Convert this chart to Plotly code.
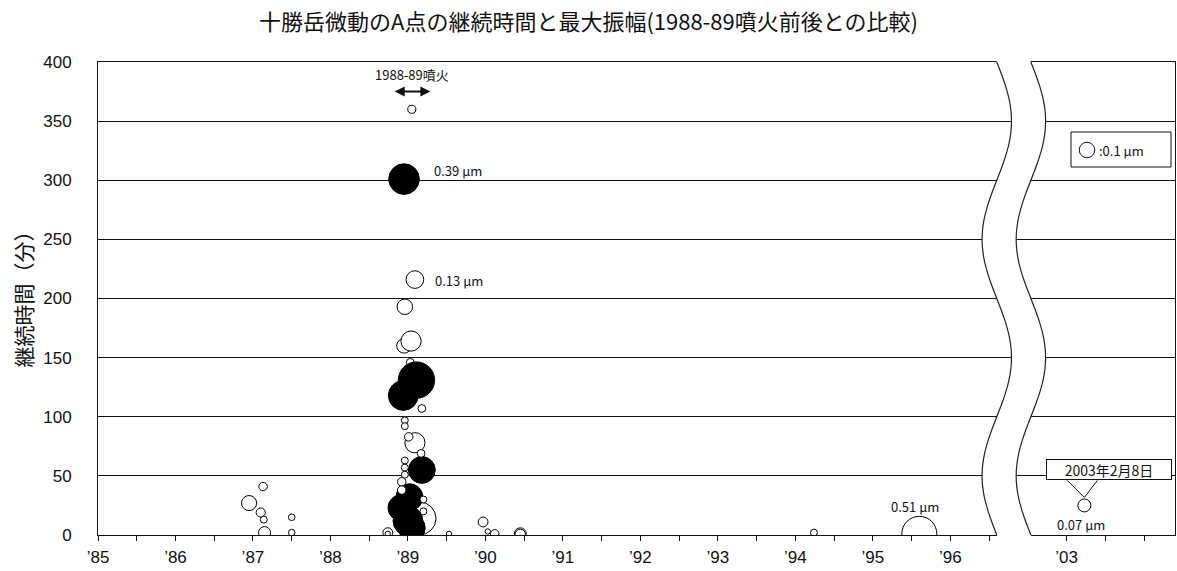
import math
import plotly.graph_objects as go

TITLE = "十勝岳微動のA点の継続時間と最大振幅(1988-89噴火前後との比較)"
Y_TITLE = "継続時間（分）"

# events in drawing order (earlier ones lie underneath)
event_year = [
    1986.95, 1987.13, 1987.10, 1987.14, 1987.15, 1987.50, 1987.50, 1988.74, 1988.74,
    1989.05, 1989.09, 1988.96, 1988.95, 1989.04, 1989.03, 1989.09, 1989.15,
    1988.95, 1989.11, 1988.94, 1989.18, 1989.02, 1988.91, 1989.00, 1989.05,
    1989.18, 1988.96, 1988.96, 1989.01, 1989.17, 1988.96, 1988.96, 1988.96,
    1988.92, 1988.92, 1989.20, 1989.20, 1989.53, 1989.97, 1990.03, 1990.12,
    1990.45, 1990.45, 1994.24, 1995.60, 2003.23,
]
event_duration = [
    27, 41, 19, 13, 2, 15, 2, 2, 1,
    360, 216, 193, 160, 164, 146, 78, 14,
    301, 131, 118, 55, 32, 23, 12, 6,
    107, 97, 92, 83, 69, 63, 57, 51,
    45, 38, 30, 20, 1, 11, 3, 1,
    1, 0.5, 2, 1, 25,
]
event_amplitude = [
    0.095, 0.03, 0.035, 0.02, 0.06, 0.018, 0.018, 0.04, 0.012,
    0.027, 0.13, 0.10, 0.09, 0.17, 0.025, 0.17, 0.45,
    0.39, 0.55, 0.37, 0.30, 0.30, 0.28, 0.37, 0.30,
    0.025, 0.02, 0.02, 0.03, 0.025, 0.02, 0.02, 0.02,
    0.03, 0.03, 0.02, 0.02, 0.012, 0.04, 0.012, 0.03,
    0.06, 0.045, 0.02, 0.51, 0.07,
]
event_filled = [
    0, 0, 0, 0, 0, 0, 0, 0, 0,
    0, 0, 0, 0, 0, 0, 0, 0,
    1, 1, 1, 1, 1, 1, 1, 1,
    0, 0, 0, 0, 0, 0, 0, 0,
    0, 0, 0, 0, 0, 0, 0, 0,
    0, 0, 0, 0, 0,
]

tick_years = [1985, 1986, 1987, 1988, 1989, 1990, 1991, 1992, 1993, 1994, 1995, 1996, 2003]
tick_labels = ["’85", "’86", "’87", "’88", "’89", "’90", "’91", "’92", "’93", "’94", "’95", "’96", "’03"]

y_ticks = [0, 50, 100, 150, 200, 250, 300, 350, 400]

eruption_span = [1988.81, 1989.29]
scale_amplitude = 0.1

# ---- helpers -------------------------------------------------------------
def xpos(year):
    """Broken time axis: 1985-1996 continuous, then jump to 2003."""
    return year - 1985 if year < 2000 else year - 2003 + 12.5

def bubble(a):
    return 15.5 * math.sqrt(a / scale_amplitude)

X_MAX = 13.9
Y_MAX = 400

xs = [xpos(v) for v in event_year]
sizes = [bubble(a) for a in event_amplitude]
fills = ["black" if f else "white" for f in event_filled]

fig = go.Figure()
fig.add_trace(go.Scatter(
    x=xs, y=event_duration, mode="markers",
    marker=dict(size=sizes, sizemode="diameter", color=fills,
                line=dict(color="black", width=1), opacity=1),
    cliponaxis=True, showlegend=False, hoverinfo="skip",
))

# minor + major ticks every half year (skip the one inside the break)
tv = [i * 0.5 for i in range(0, 28) if i * 0.5 != 12.0]
major = {xpos(y): t for y, t in zip(tick_years, tick_labels)}
tt = [major.get(v, "") for v in tv]

AXIS_FONT = dict(family="Liberation Sans, Arial, sans-serif", size=17, color="#111")
CJK = "Noto Sans CJK JP, sans-serif"

fig.update_layout(
    width=1177, height=571,
    margin=dict(l=98, r=2, t=62, b=36, autoexpand=False),
    paper_bgcolor="white", plot_bgcolor="white",
    title=dict(text=TITLE, x=0.5, xanchor="center", y=1 - 22 / 571, yanchor="middle",
               yref="container", font=dict(family=CJK, size=22, color="#111")),
    xaxis=dict(range=[0, X_MAX], tickmode="array", tickvals=tv, ticktext=tt,
               ticks="outside", ticklen=5, tickwidth=1, tickcolor="#111",
               showgrid=False, zeroline=False, showline=True, mirror=True,
               linecolor="#111", linewidth=1, tickfont=AXIS_FONT,
               ticklabelstandoff=2, automargin=False),
    yaxis=dict(range=[0, Y_MAX], tickmode="array", tickvals=y_ticks,
               ticks="", showgrid=True, gridcolor="#111", gridwidth=1,
               zeroline=False, showline=True, mirror=True, linecolor="#111",
               linewidth=1, tickfont=AXIS_FONT, ticklabelstandoff=22,
               automargin=False),
)

# ---- axis break (wavy band) ---------------------------------------------
def px(v):
    return v / X_MAX

BREAK_L, BREAK_R, AMP, PERIOD = 11.6, 12.04, 0.19, 200.0

def wave(center, y0, y1, n=80):
    pts = []
    for i in range(n + 1):
        yy = y0 + (y1 - y0) * i / n
        xx = center + AMP * math.sin(2 * math.pi * (Y_MAX - yy) / PERIOD)
        pts.append((px(xx), yy / Y_MAX))
    return pts

eps = 4.0
left = wave(BREAK_L, Y_MAX + eps, -eps)
right = wave(BREAK_R, -eps, Y_MAX + eps)
band = "M " + " L ".join(f"{a:.5f},{b:.5f}" for a, b in left + right) + " Z"
fig.add_shape(type="path", path=band, xref="paper", yref="paper",
              fillcolor="white", line=dict(width=0), layer="above")
for c in (BREAK_L, BREAK_R):
    pts = wave(c, Y_MAX, 0)
    p = "M " + " L ".join(f"{a:.5f},{b:.5f}" for a, b in pts)
    fig.add_shape(type="path", path=p, xref="paper", yref="paper",
                  line=dict(color="#222", width=1.2), layer="above")

# ---- annotations ----------------------------------------------------------
LBL = dict(family=CJK, size=13, color="#111")

def idx_of(a):
    return event_amplitude.index(a)

def label_at(i, text, xs_, ys_, anchor):
    fig.add_annotation(x=xs[i], y=event_duration[i], text=text, showarrow=False,
                       xshift=xs_, yshift=ys_, xanchor=anchor, yanchor="middle", font=LBL)

label_at(idx_of(0.39), "0.39 μm", 28, 9, "left")
label_at(idx_of(0.13), "0.13 μm", 18, -1, "left")
label_at(idx_of(0.51), "0.51 μm", -4, 27, "center")
label_at(idx_of(0.07), "0.07 μm", -3, -19, "center")

# eruption arrow
mid = (xpos(eruption_span[0]) + xpos(eruption_span[1])) / 2
fig.add_annotation(x=xpos(eruption_span[1]), y=375, ax=xpos(eruption_span[0]), ay=375,
                   axref="x", ayref="y", text="", showarrow=True,
                   arrowhead=2, arrowside="end+start", arrowwidth=2, arrowsize=1,
                   arrowcolor="#111", standoff=0, startstandoff=0)
fig.add_annotation(x=mid, y=375, text="1988-89噴火", showarrow=False,
                   yshift=17, font=LBL)

# 2003 callout
i03 = idx_of(0.07)
fig.add_annotation(x=xs[i03], y=event_duration[i03], text="2003年2月8日", showarrow=False,
                   xshift=25, yshift=35.5, width=124, height=19, borderpad=0,
                   bordercolor="#111", borderwidth=1, bgcolor="white",
                   font=dict(family=CJK, size=14, color="#111"))
fig.add_shape(type="path", xref="x", yref="y", xsizemode="pixel", ysizemode="pixel",
              xanchor=xs[i03], yanchor=event_duration[i03],
              path="M -17,25 L 0,8 L 13,25", line=dict(color="#111", width=1))

# scale key
def ppx(pix):
    return (pix - 98) / 1077

def ppy(pix):
    return (535 - pix) / 473

fig.add_shape(type="rect", xref="paper", yref="paper",
              x0=ppx(1071), x1=ppx(1171), y0=ppy(167), y1=ppy(132),
              line=dict(color="#111", width=1), fillcolor="white", layer="above")
r = bubble(scale_amplitude) / 2
fig.add_shape(type="circle", xref="paper", yref="paper", xsizemode="pixel", ysizemode="pixel",
              xanchor=ppx(1087), yanchor=ppy(150), x0=-r, x1=r, y0=-r, y1=r,
              line=dict(color="#111", width=1), fillcolor="white", layer="above")
fig.add_annotation(xref="paper", yref="paper", x=ppx(1097), y=ppy(150), text=":0.1 μm",
                   showarrow=False, xanchor="left", yanchor="middle", font=LBL)

# y title
fig.add_annotation(xref="paper", yref="paper", x=0, y=0.5, xshift=-76, yshift=4,
                   text=Y_TITLE, textangle=-90, showarrow=False,
                   xanchor="center", yanchor="middle",
                   font=dict(family=CJK, size=21, color="#111"))

fig.write_html(
    "out.html",
    config={"displayModeBar": False},
    post_script="document.body.style.margin='0';document.body.style.overflow='hidden';",
)
